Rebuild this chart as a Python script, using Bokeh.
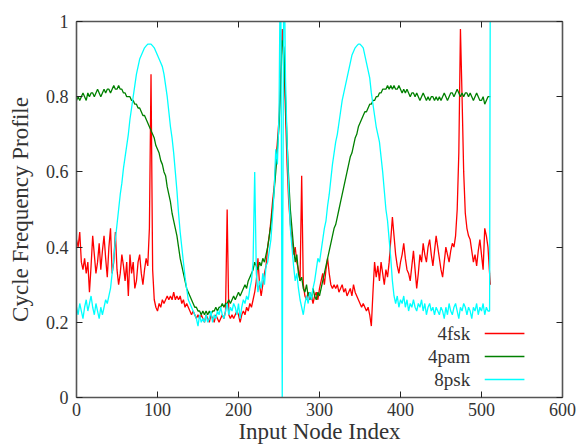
from bokeh.plotting import figure
from bokeh.models import Range1d, LinearAxis, FixedTicker, Label, Arrow
from bokeh.embed import file_html
from bokeh.resources import INLINE

# Input node index (every second node, plus the last one)
node_index = list(range(0, 512, 2)) + [511]

fsk4 = [
    0.42, 0.40, 0.44, 0.36, 0.34, 0.37, 0.33, 0.36, 0.28, 0.35, 0.43, 0.38, 0.33, 0.36, 0.41, 0.34,
    0.39, 0.43, 0.37, 0.32, 0.40, 0.45, 0.33, 0.36, 0.44, 0.34, 0.30, 0.33, 0.38, 0.35, 0.31, 0.36,
    0.27, 0.38, 0.33, 0.36, 0.29, 0.31, 0.36, 0.38, 0.33, 0.30, 0.34, 0.37, 0.35, 0.45, 0.86, 0.34,
    0.26, 0.24, 0.23, 0.25, 0.24, 0.26, 0.25, 0.26, 0.27, 0.26, 0.27, 0.26, 0.28, 0.26, 0.27, 0.26,
    0.27, 0.25, 0.26, 0.24, 0.25, 0.24, 0.23, 0.22, 0.23, 0.22, 0.21, 0.22, 0.21, 0.22, 0.21, 0.20,
    0.22, 0.21, 0.20, 0.22, 0.21, 0.20, 0.22, 0.21, 0.20, 0.21, 0.22, 0.21, 0.23, 0.50, 0.22, 0.21,
    0.22, 0.21, 0.22, 0.23, 0.22, 0.20, 0.22, 0.23, 0.22, 0.24, 0.23, 0.25, 0.24, 0.26, 0.28, 0.31,
    0.37, 0.30, 0.27, 0.30, 0.33, 0.35, 0.40, 0.43, 0.47, 0.52, 0.56, 0.62, 0.68, 0.74, 0.85, 0.98,
    0.90, 0.76, 0.62, 0.52, 0.46, 0.42, 0.38, 0.40, 0.36, 0.34, 0.31, 0.59, 0.30, 0.27, 0.26, 0.28,
    0.26, 0.27, 0.25, 0.27, 0.28, 0.26, 0.29, 0.31, 0.33, 0.30, 0.34, 0.37, 0.33, 0.30, 0.29, 0.30,
    0.29, 0.30, 0.28, 0.29, 0.30, 0.28, 0.29, 0.27, 0.28, 0.29, 0.27, 0.30, 0.28, 0.27, 0.26, 0.25,
    0.24, 0.25, 0.24, 0.23, 0.24, 0.22, 0.19, 0.28, 0.36, 0.32, 0.35, 0.31, 0.36, 0.33, 0.30, 0.34,
    0.32, 0.36, 0.42, 0.48, 0.43, 0.38, 0.35, 0.33, 0.36, 0.38, 0.41, 0.37, 0.34, 0.33, 0.31, 0.35,
    0.39, 0.34, 0.29, 0.33, 0.38, 0.36, 0.41, 0.38, 0.36, 0.40, 0.42, 0.38, 0.35, 0.39, 0.43, 0.40,
    0.37, 0.34, 0.32, 0.36, 0.40, 0.38, 0.36, 0.39, 0.41, 0.40, 0.43, 0.50, 0.65, 0.98, 0.80, 0.60,
    0.49, 0.45, 0.43, 0.42, 0.39, 0.36, 0.38, 0.35, 0.39, 0.42, 0.38, 0.34, 0.45, 0.43, 0.40, 0.33,
    0.30,
]

pam4 = [
    0.79, 0.80, 0.79, 0.80, 0.81, 0.80, 0.79, 0.81, 0.80, 0.81, 0.81, 0.80, 0.81, 0.82, 0.81, 0.80,
    0.81, 0.82, 0.81, 0.82, 0.82, 0.81, 0.82, 0.83, 0.82, 0.82, 0.83, 0.82, 0.82, 0.81, 0.81, 0.80,
    0.80, 0.80, 0.79, 0.79, 0.78, 0.78, 0.77, 0.77, 0.76, 0.75, 0.75, 0.74, 0.73, 0.72, 0.71, 0.70,
    0.69, 0.67, 0.66, 0.65, 0.63, 0.62, 0.60, 0.59, 0.56, 0.54, 0.52, 0.49, 0.47, 0.45, 0.43, 0.40,
    0.37, 0.35, 0.33, 0.31, 0.29, 0.28, 0.27, 0.26, 0.25, 0.24, 0.24, 0.23, 0.23, 0.22, 0.23, 0.22,
    0.23, 0.22, 0.23, 0.22, 0.23, 0.23, 0.24, 0.23, 0.24, 0.24, 0.25, 0.24, 0.25, 0.25, 0.26, 0.25,
    0.26, 0.27, 0.26, 0.27, 0.28, 0.27, 0.28, 0.29, 0.30, 0.29, 0.31, 0.32, 0.33, 0.34, 0.36, 0.35,
    0.34, 0.36, 0.35, 0.37, 0.36, 0.38, 0.40, 0.43, 0.46, 0.50, 0.55, 0.60, 0.66, 0.72, 0.82, 0.95,
    0.93, 0.80, 0.68, 0.58, 0.50, 0.45, 0.40, 0.36, 0.38, 0.33, 0.31, 0.32, 0.29, 0.28, 0.30, 0.27,
    0.28, 0.26, 0.29, 0.27, 0.26, 0.28, 0.27, 0.29, 0.31, 0.33, 0.35, 0.37, 0.39, 0.41, 0.43, 0.45,
    0.46, 0.48, 0.50, 0.52, 0.54, 0.56, 0.58, 0.60, 0.62, 0.64, 0.65, 0.67, 0.69, 0.70, 0.72, 0.73,
    0.74, 0.75, 0.76, 0.76, 0.77, 0.78, 0.78, 0.79, 0.79, 0.80, 0.80, 0.81, 0.81, 0.82, 0.82, 0.82,
    0.83, 0.82, 0.83, 0.82, 0.83, 0.82, 0.82, 0.83, 0.82, 0.81, 0.82, 0.81, 0.82, 0.81, 0.80, 0.81,
    0.81, 0.80, 0.81, 0.80, 0.79, 0.80, 0.81, 0.80, 0.79, 0.80, 0.79, 0.80, 0.80, 0.79, 0.80, 0.79,
    0.80, 0.79, 0.80, 0.81, 0.80, 0.79, 0.80, 0.81, 0.81, 0.80, 0.81, 0.82, 0.81, 0.80, 0.81, 0.80,
    0.81, 0.81, 0.80, 0.81, 0.80, 0.79, 0.80, 0.81, 0.80, 0.79, 0.79, 0.80, 0.78, 0.79, 0.80, 0.80,
    0.80,
]

psk8 = [
    0.24, 0.22, 0.25, 0.23, 0.21, 0.24, 0.26, 0.23, 0.25, 0.27, 0.24, 0.22, 0.25, 0.23, 0.21, 0.24,
    0.22, 0.24, 0.26, 0.25, 0.27, 0.29, 0.33, 0.37, 0.42, 0.46, 0.50, 0.54, 0.57, 0.61, 0.64, 0.67,
    0.70, 0.74, 0.77, 0.80, 0.83, 0.86, 0.88, 0.90, 0.91, 0.92, 0.93, 0.935, 0.94, 0.94, 0.94, 0.935,
    0.93, 0.92, 0.91, 0.90, 0.89, 0.88, 0.86, 0.83, 0.80, 0.76, 0.72, 0.69, 0.65, 0.60, 0.55, 0.49,
    0.44, 0.40, 0.36, 0.32, 0.29, 0.26, 0.25, 0.24, 0.23, 0.22, 0.21, 0.19, 0.22, 0.20, 0.21, 0.20,
    0.22, 0.20, 0.21, 0.23, 0.20, 0.22, 0.21, 0.23, 0.22, 0.24, 0.22, 0.21, 0.23, 0.25, 0.22, 0.24,
    0.23, 0.25, 0.24, 0.22, 0.25, 0.21, 0.24, 0.26, 0.25, 0.27, 0.26, 0.29, 0.31, 0.36, 0.60, 0.33,
    0.28, 0.31, 0.29, 0.33, 0.30, 0.35, 0.36, 0.39, 0.42, 0.48, 0.55, 0.66, 0.62, 0.75, 1.25, 0.0,
    1.25, 0.85, 0.68, 0.55, 0.45, 0.40, 0.35, 0.31, 0.33, 0.29, 0.26, 0.24, 0.22, 0.25, 0.27, 0.25,
    0.28, 0.26, 0.29, 0.31, 0.34, 0.37, 0.36, 0.39, 0.42, 0.45, 0.47, 0.51, 0.54, 0.58, 0.62, 0.65,
    0.68, 0.70, 0.73, 0.76, 0.79, 0.81, 0.83, 0.85, 0.87, 0.89, 0.91, 0.92, 0.93, 0.935, 0.94, 0.94,
    0.935, 0.93, 0.91, 0.89, 0.87, 0.85, 0.81, 0.78, 0.75, 0.72, 0.70, 0.68, 0.64, 0.60, 0.55, 0.50,
    0.47, 0.42, 0.37, 0.31, 0.27, 0.25, 0.27, 0.24, 0.26, 0.25, 0.27, 0.24, 0.26, 0.23, 0.25, 0.24,
    0.26, 0.24, 0.23, 0.25, 0.24, 0.26, 0.23, 0.25, 0.22, 0.24, 0.25, 0.23, 0.24, 0.22, 0.24, 0.23,
    0.22, 0.24, 0.23, 0.21, 0.24, 0.22, 0.25, 0.23, 0.22, 0.24, 0.25, 0.23, 0.21, 0.24, 0.23, 0.25,
    0.24, 0.22, 0.24, 0.23, 0.21, 0.24, 0.23, 0.25, 0.22, 0.24, 0.23, 0.25, 0.22, 0.24, 0.23, 0.23,
    1.30,
]

series_names = ["4fsk", "4pam", "8psk"]
series_colors = ["#ff0000", "#008000", "#00ffff"]
x_ticks = [0, 100, 200, 300, 400, 500, 600]
y_ticks = [0, 0.2, 0.4, 0.6, 0.8, 1.0]
y_tick_labels = {0: "0", 0.2: "0.2", 0.4: "0.4", 0.6: "0.6", 0.8: "0.8", 1: "1"}

FONT = "Liberation Serif"
TXT = "#333333"
AX = "#555555"

p = figure(width=577, height=448, output_backend="svg", toolbar_location=None,
           x_range=Range1d(0, 600), y_range=Range1d(0, 1),
           x_axis_label="Input Node Index", y_axis_label="Cycle Frequency Profile",
           min_border_left=76, min_border_right=15, min_border_top=21, min_border_bottom=51)
p.grid.visible = False
p.outline_line_color = None
p.background_fill_color = "white"
p.border_fill_color = "white"

for ys, c in zip([fsk4, pam4, psk8], series_colors):
    p.line(node_index, ys, line_color=c, line_width=1.3)

def style(ax):
    ax.axis_line_color = AX
    ax.axis_line_width = 1.6
    ax.major_tick_in = 6
    ax.major_tick_out = 0
    ax.major_tick_line_color = "#222222"
    ax.minor_tick_line_color = None
    ax.major_label_text_font = FONT
    ax.major_label_text_font_size = "18px"
    ax.major_label_text_color = TXT
    ax.axis_label_text_font = FONT
    ax.axis_label_text_font_size = "23px"
    ax.axis_label_text_font_style = "normal"
    ax.axis_label_text_color = TXT

xa = p.xaxis[0]
ya = p.yaxis[0]
xa.ticker = FixedTicker(ticks=x_ticks)
ya.ticker = FixedTicker(ticks=y_ticks)
ya.major_label_overrides = y_tick_labels
style(xa)
style(ya)
xa.major_label_standoff = 5
xa.axis_label_standoff = 0
ya.major_label_standoff = 8
ya.axis_label_standoff = 10

# mirrored tick marks on the top and right edges (no labels)
top = LinearAxis(ticker=FixedTicker(ticks=x_ticks))
right = LinearAxis(ticker=FixedTicker(ticks=y_ticks))
for ax, ticks in ((top, x_ticks), (right, y_ticks)):
    style(ax)
    ax.major_label_overrides = {t: "" for t in ticks}
    ax.major_label_standoff = 0
p.add_layout(top, "above")
p.add_layout(right, "right")

# gnuplot-style key: label on the left, line sample on the right
key_label_x = 486
key_line_x0, key_line_x1 = 504, 553
key_rows = [0.170, 0.109, 0.048]
for name, c, yy in zip(series_names, series_colors, key_rows):
    p.add_layout(Label(x=key_label_x, y=yy, text=name, text_align="right", text_baseline="middle",
                       text_font=FONT, text_font_size="19px", text_color=TXT))
    p.add_layout(Arrow(x_start=key_line_x0, y_start=yy, x_end=key_line_x1, y_end=yy,
                       start=None, end=None, line_color=c, line_width=1.5))

open("out.html", "w").write(file_html(p, INLINE))
